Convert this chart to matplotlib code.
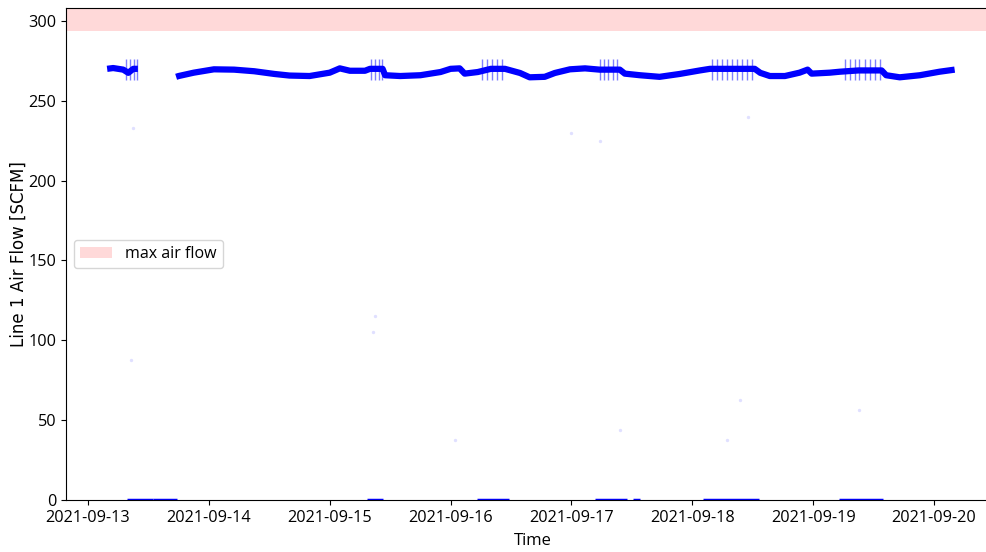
import matplotlib
matplotlib.use("Agg")
import matplotlib.pyplot as plt
import matplotlib.dates as mdates
import pandas as pd

plt.rcParams['font.family'] = ['Open Sans', 'DejaVu Sans']

start = pd.Timestamp("2021-09-13 00:00")

# Line 1 air flow readings (hours after 2021-09-13 00:00, SCFM)
run1_hours = [3.8, 5.0, 6.0, 7.0, 8.0, 9.0, 9.9]
run1_flow = [270.0, 270.5, 270.0, 269.5, 267.5, 270.0, 270.0]

run2_hours = [17.5, 18.0, 21.0, 25.0, 29.0, 33.0, 37.0, 40.0, 44.0, 48.0,
              50.0, 52.0, 55.0, 56.0, 58.5, 59.0, 62.0, 66.0, 70.0, 72.0,
              73.8, 74.8, 77.4, 80.0, 82.8, 85.8, 87.7, 90.7, 92.7, 95.7,
              98.7, 101.6, 105.6, 106.6, 109.6, 113.5, 117.5, 121.5, 123.5, 128.0,
              132.4, 133.5, 135.4, 138.4, 141.3, 142.9, 143.7, 147.3, 149.3, 153.0,
              157.6, 158.5, 161.2, 165.2, 169.1, 172.1]
run2_flow = [265.0, 265.5, 267.6, 269.7, 269.5, 268.5, 266.8, 265.8, 265.5, 267.6,
             270.3, 268.8, 268.8, 270.0, 270.0, 266.0, 265.5, 266.0, 268.0, 270.0,
             270.3, 267.0, 268.0, 270.0, 270.0, 267.4, 264.7, 265.0, 267.4, 269.7,
             270.3, 269.5, 269.5, 267.0, 266.0, 265.0, 266.8, 269.0, 270.0, 270.0,
             270.0, 267.5, 265.5, 265.5, 267.6, 269.5, 267.0, 267.6, 268.2, 269.0,
             269.0, 266.0, 264.7, 266.0, 268.2, 269.5]

# Compressor cycling (load/unload) readings
cycle_hours = [7.6, 8.4, 9.2, 9.8,
               56.2, 57.0, 57.8, 58.4,
               78.2, 79.2, 80.2, 81.2, 82.2,
               101.6, 102.4, 103.2, 104.2, 105.0,
               123.9, 124.9, 125.9, 126.9, 127.9, 128.8, 129.8, 130.8, 131.8,
               150.3, 151.3, 152.3, 153.2, 154.2, 155.2, 156.2, 157.2]
cycle_low = 263.0
cycle_high = 276.0

# Zero-flow periods (start hour, end hour)
idle_start = [7.7, 12.9, 55.4, 77.2, 100.6, 108.2, 122.1, 149.1]
idle_end = [12.9, 17.7, 58.6, 83.6, 107.0, 109.6, 133.2, 157.8]

# Isolated transient readings
transient_hours = [8.9, 8.5, 56.5, 57.0, 72.8, 101.6, 105.6, 126.8, 129.4, 153.2, 131.0, 96.0]
transient_flow = [233.0, 87.7, 105.0, 115.0, 37.6, 225.0, 43.8, 37.6, 62.6, 56.4, 240.0, 230.0]

max_flow_low = 293.7
max_flow_high = 308.1

def to_time(hours):
    return [start + pd.Timedelta(hours=h) for h in hours]

fig = plt.figure(figsize=(9.87, 5.52), dpi=100)
ax = fig.add_axes([66 / 987, 1 - 500 / 552, (1000 - 66) / 987, (500 - 8) / 552])

blue = (0, 0, 1)
ax.plot(to_time(run1_hours), run1_flow, color=blue, lw=4.5, solid_capstyle='butt')
ax.plot(to_time(run2_hours), run2_flow, color=blue, lw=4.5, solid_capstyle='butt')
ax.vlines(to_time(cycle_hours), cycle_low, cycle_high, color=blue, lw=1.0, alpha=0.5)
for s, e in zip(idle_start, idle_end):
    ax.plot(to_time([s, e]), [0, 0], color=blue, lw=2.5, solid_capstyle='butt')
ax.scatter(to_time(transient_hours), transient_flow, s=6, color=blue, alpha=0.12, lw=0)

ax.axhspan(max_flow_low, max_flow_high, color='red', alpha=0.15, lw=0, label='max air flow')

px_per_day = (934 - 88) / 7.0
x0 = start - pd.Timedelta(days=22 / px_per_day)
x1 = start + pd.Timedelta(days=7 + 66 / px_per_day)
ax.set_xlim(x0, x1)
ax.set_ylim(0, max_flow_high)

ax.xaxis.set_major_locator(mdates.DayLocator())
ax.xaxis.set_major_formatter(mdates.DateFormatter('%Y-%m-%d'))
ax.set_yticks([0, 50, 100, 150, 200, 250, 300])
ax.tick_params(labelsize=11.7)

ax.set_xlabel('Time', fontsize=12, labelpad=5)
ax.set_ylabel('Line 1 Air Flow [SCFM]', fontsize=12, family='DejaVu Sans', labelpad=0)
ax.legend(loc='center left', fontsize=11.5)

fig.savefig('out.png', dpi=100)
